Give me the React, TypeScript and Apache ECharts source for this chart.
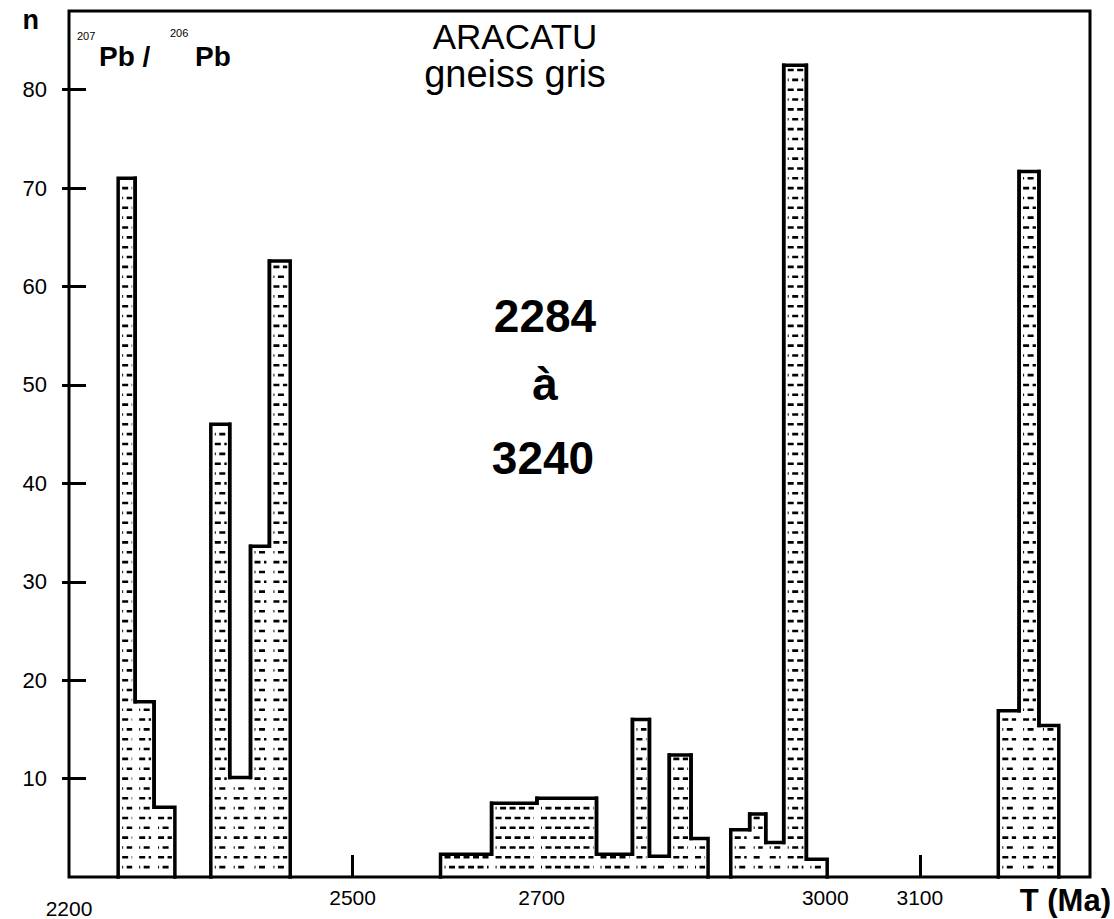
import React, { useEffect, useRef } from 'react';
import * as echarts from 'echarts';

// Histogram bins (Ma) and counts n
const binStarts = [2252, 2270, 2290, 2350, 2370, 2392, 2412, 2593, 2647, 2695, 2758, 2796, 2814, 2835, 2858, 2900, 2920, 2937, 2956, 2980, 3183, 3205, 3226];
const binEnds = [2270, 2290, 2312, 2370, 2392, 2412, 2434, 2647, 2695, 2758, 2796, 2814, 2835, 2858, 2876, 2920, 2937, 2956, 2980, 3002, 3205, 3226, 3247];
const counts = [71, 17.8, 7.1, 46, 10.1, 33.6, 62.6, 2.3, 7.5, 8, 2.3, 16, 2.1, 12.4, 3.9, 4.8, 6.4, 3.5, 82.5, 1.8, 16.9, 71.7, 15.4];

// Axis ticks and labels
const xTickValues = [2500, 3100];
const xLabelValues = [2500, 2700, 3000, 3100];
const xOriginLabel = [2200];
const yLabelValues = [10, 20, 30, 40, 50, 60, 70, 80];

const FONT = '"Liberation Sans", Arial, Helvetica, sans-serif';
const plain = (v: number) => String(v);

export default function App() {
  const ref = useRef<HTMLDivElement>(null);
  useEffect(() => {
    if (!ref.current) return;
    const chart = echarts.init(ref.current, null, { renderer: 'svg' });
    const n = counts.length;
    const data = binStarts.map((s, i) => [s, binEnds[i], counts[i]]);
    const option: any = {
      animation: false,
      backgroundColor: '#fff',
      textStyle: { fontFamily: FONT, color: '#000' },
      grid: {
        left: 69, right: 23, top: 11, bottom: 41,
        show: true, borderColor: '#000', borderWidth: 3, backgroundColor: 'transparent',
      },
      xAxis: [
        {
          type: 'value', min: 2200, max: 3280,
          axisLine: { show: false },
          splitLine: { show: false },
          axisTick: { show: true, inside: true, length: 22, customValues: xTickValues, lineStyle: { color: '#000', width: 3 } },
          axisLabel: { show: true, customValues: xLabelValues, formatter: plain, margin: 10, fontSize: 21, color: '#000', fontFamily: FONT },
          name: 'T (Ma)', nameLocation: 'end', nameGap: 21,
          nameTextStyle: { align: 'right', verticalAlign: 'top', padding: [8, 0, 0, 0], fontSize: 31, fontWeight: 'bold', color: '#000', fontFamily: FONT },
        },
        {
          type: 'value', min: 2200, max: 3280, position: 'bottom', offset: 11,
          axisLine: { show: false }, splitLine: { show: false }, axisTick: { show: false },
          axisLabel: { show: true, customValues: xOriginLabel, formatter: plain, margin: 10, fontSize: 21, color: '#000', fontFamily: FONT },
        },
      ],
      yAxis: [
        {
          type: 'value', min: 0, max: 88, interval: 10,
          axisLine: { show: false }, splitLine: { show: false },
          axisTick: { show: true, length: 7, customValues: yLabelValues, lineStyle: { color: '#000', width: 3 } },
          axisLabel: { show: true, customValues: yLabelValues, formatter: plain, margin: 22, fontSize: 22, color: '#000', fontFamily: FONT },
          name: 'n', nameLocation: 'end', nameGap: 5,
          nameTextStyle: { align: 'right', verticalAlign: 'top', padding: [0, 30, 0, 0], fontSize: 27, fontWeight: 'bold', color: '#000', fontFamily: FONT },
        },
        {
          type: 'value', min: 0, max: 88, interval: 10, position: 'left', offset: 0,
          axisLine: { show: false }, splitLine: { show: false },
          axisTick: { show: true, inside: true, length: 17, customValues: yLabelValues, lineStyle: { color: '#000', width: 3 } },
          axisLabel: { show: false },
        },
      ],
      series: [
        {
          type: 'custom',
          xAxisIndex: 0, yAxisIndex: 0,
          data,
          encode: { x: [0, 1], y: 2 },
          clip: false,
          renderItem: (params: any, api: any) => {
            const i = params.dataIndex;
            const s = api.value(0);
            const e = api.value(1);
            const h = api.value(2);
            const prevH = i > 0 && binEnds[i - 1] === binStarts[i] ? counts[i - 1] : 0;
            const nextH = i < n - 1 && binStarts[i + 1] === binEnds[i] ? counts[i + 1] : 0;
            const [x0, yTop] = api.coord([s, h]);
            const [x1] = api.coord([e, 0]);
            const yPrev = api.coord([s, prevH])[1];
            const yNext = api.coord([e, nextH])[1];
            const children: any[] = [];
            for (let k = 1; k <= h - 0.25; k++) {
              const yk = api.coord([s, k])[1];
              children.push({
                type: 'line',
                shape: { x1: x0 + 4, y1: yk, x2: x1 - 3, y2: yk },
                style: { stroke: '#000', lineWidth: 2.6, lineDash: [6, 3.5], lineDashOffset: (k % 2) * 5, fill: null },
              });
            }
            children.push({
              type: 'polyline',
              shape: { points: [[x0, yPrev], [x0, yTop], [x1, yTop], [x1, yNext]] },
              style: { stroke: '#000', lineWidth: 3.5, fill: null, lineJoin: 'miter', lineCap: 'square' },
            });
            return { type: 'group', children };
          },
        },
      ],
      graphic: [
        { type: 'text', left: 77, top: 30, style: { text: '207', fontSize: 11, fontFamily: FONT, fill: '#000' } },
        { type: 'text', x: 99, y: 56, style: { text: 'Pb /', fontSize: 28, fontWeight: 'bold', fontFamily: FONT, fill: '#000', verticalAlign: 'middle' } },
        { type: 'text', left: 170, top: 27, style: { text: '206', fontSize: 11, fontFamily: FONT, fill: '#000' } },
        { type: 'text', x: 195, y: 56, style: { text: 'Pb', fontSize: 28, fontWeight: 'bold', fontFamily: FONT, fill: '#000', verticalAlign: 'middle' } },
        { type: 'text', x: 515, y: 36, style: { text: 'ARACATU', fontSize: 35, fontFamily: FONT, fill: '#000', align: 'center', verticalAlign: 'middle' } },
        { type: 'text', x: 515, y: 74, style: { text: 'gneiss gris', fontSize: 38, fontFamily: FONT, fill: '#000', align: 'center', verticalAlign: 'middle' } },
        { type: 'text', x: 545, y: 316, style: { text: '2284', fontSize: 46, fontWeight: 'bold', fontFamily: FONT, fill: '#000', align: 'center', verticalAlign: 'middle' } },
        { type: 'text', x: 545, y: 384, style: { text: 'à', fontSize: 46, fontWeight: 'bold', fontFamily: FONT, fill: '#000', align: 'center', verticalAlign: 'middle' } },
        { type: 'text', x: 543, y: 458, style: { text: '3240', fontSize: 46, fontWeight: 'bold', fontFamily: FONT, fill: '#000', align: 'center', verticalAlign: 'middle' } },
      ],
    };
    chart.setOption(option);
    return () => chart.dispose();
  }, []);
  return <div ref={ref} style={{ position: 'fixed', left: 0, top: 0, width: 1114, height: 919, background: '#fff' }} />;
}
